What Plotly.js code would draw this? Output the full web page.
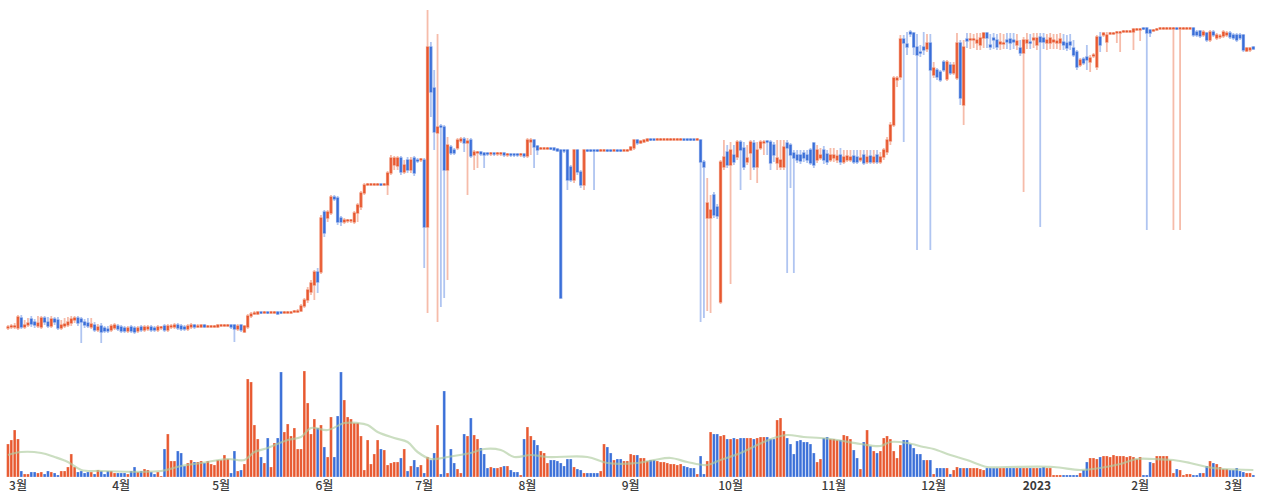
<!DOCTYPE html>
<html>
<head>
<meta charset="utf-8">
<script src="https://cdn.plot.ly/plotly-3.0.1.min.js"></script>
<style>
html,body{margin:0;padding:0;background:#fff;}
#chart{width:1266px;height:502px;}
</style>
</head>
<body>
<div id="chart"></div>
<script>
// Daily candles from 2022-02-26 to 2023-03-07 (arbitrary price units)
const startDate = '2022-02-26';
const openP = [
12,13,13,12,22,13,15,21,18,14,
13,22,18,14,21,20,12,14,15,17,
20,22,21,18,17,13,15,10,14,12,
11,10,12,14,13,12,9,13,12,9,
13,10,11,13,12,10,12,14,10,13,
13,15,14,13,11,13,15,13,13,15,
13,13,13,13,14,14,14,15,15,11,
15,8,13,24,26,26,28,27,28,27,
27,28,28,27,27,27,28,28,29,34,
40,48,55,68,68,128,122,127,143,142,
122,118,119,119,118,127,133,147,155,155,
155,155,156,155,155,167,175,174,182,168,
180,170,182,180,180,180,113,293,252,207,
214,213,170,193,190,192,199,201,197,200,
185,187,188,187,187,186,187,186,186,187,
185,186,186,186,185,186,184,198,200,194,
191,191,191,192,192,191,190,190,190,173,
160,190,168,155,190,190,190,190,189,189,
190,190,189,190,190,189,189,190,192,200,
197,198,199,201,201,200,200,200,200,200,
200,200,200,201,201,201,201,200,200,178,
122,122,145,133,38,173,188,175,185,183,
198,192,178,187,197,173,192,197,199,198,
195,177,173,173,197,195,187,185,185,187,
185,190,197,180,182,190,186,180,182,180,
185,178,180,180,184,183,180,185,178,184,
178,185,178,183,188,199,215,260,263,301,
296,308,307,293,288,293,291,297,265,270,
268,278,261,275,267,262,297,235,301,300,
300,297,295,302,307,295,302,300,296,296,
300,301,300,295,292,287,297,298,300,295,
303,302,297,297,298,297,297,298,297,298,
292,288,275,281,283,278,284,273,303,305,
298,306,306,307,307,308,308,308,308,310,
310,312,312,310,309,310,311,311,311,311,
311,312,311,311,311,311,312,308,309,305,
307,300,308,302,303,304,305,307,305,305,
305,305,289,290,293
];
const closeP = [
13,14,14,23,13,15,17,16,15,17,
22,18,14,21,18,12,15,16,18,21,
22,17,18,15,14,16,10,13,8,9,
9,14,15,11,9,9,12,9,8,12,
10,13,13,10,10,13,13,10,14,14,
15,12,11,11,14,15,13,14,15,13,
14,14,14,15,15,15,15,13,11,14,
10,14,24,26,27,28,27,28,27,28,
28,26,27,28,28,28,29,29,34,40,
50,57,68,58,122,107,128,143,141,118,
118,120,120,120,127,135,147,155,156,156,
156,156,155,156,167,182,182,182,168,175,
170,180,167,179,181,113,293,248,208,213,
213,170,195,187,187,200,201,197,199,184,
188,188,186,185,186,187,186,187,187,185,
186,185,185,185,186,184,200,200,193,190,
192,192,192,191,190,189,42,189,160,160,
190,168,155,190,189,189,189,189,190,190,
189,189,190,189,189,190,190,193,200,197,
199,200,201,200,200,201,201,201,201,201,
201,201,201,200,200,200,200,201,178,173,
137,130,125,124,178,183,175,190,178,198,
190,173,182,198,173,190,198,198,198,177,
185,182,180,193,192,185,182,180,179,182,
180,177,175,190,185,180,178,185,185,184,
178,183,184,183,178,178,182,177,183,178,
183,178,183,190,200,215,262,262,301,297,
293,306,293,285,287,290,297,270,272,263,
260,270,278,267,275,297,242,293,299,301,
301,300,302,307,302,293,300,293,298,297,
298,297,298,299,287,300,300,297,302,302,
298,298,300,302,300,299,301,295,292,295,
285,273,280,277,280,282,285,303,295,307,
305,307,307,308,308,309,309,309,311,311,
311,311,307,307,310,311,312,312,312,312,
312,311,312,312,312,312,305,305,304,308,
300,308,305,305,304,308,307,303,302,300,
302,290,292,292,291
];
const highP = [
15,16,17,25,25,20,22,24,21,24,
24,24,23,24,23,23,20,22,23,24,
24,24,23,21,22,22,18,16,17,14,
14,16,17,16,15,14,14,15,14,14,
15,15,15,15,14,15,14,16,16,16,
17,17,16,15,16,17,16,16,16,16,
15,15,15,16,16,16,16,16,16,16,
16,15,26,28,29,29,29,29,29,29,
29,29,29,29,29,29,30,31,36,42,
53,60,70,72,125,130,130,145,145,144,
124,122,121,121,129,137,149,157,157,157,
157,157,157,157,169,185,184,184,184,180,
183,183,184,182,182,182,330,298,270,306,
216,215,203,195,192,202,203,203,202,202,
190,189,189,188,188,188,188,188,188,188,
187,187,187,187,187,187,202,202,201,195,
193,193,193,193,193,192,191,191,191,175,
191,191,170,191,191,191,191,191,191,191,
191,191,191,191,191,191,191,194,201,201,
200,201,202,202,202,202,202,202,202,202,
202,202,202,202,202,202,202,202,201,180,
162,145,148,136,180,200,195,198,195,200,
200,198,195,200,200,198,200,200,200,200,
198,200,200,200,200,197,190,190,190,190,
190,192,198,195,192,194,190,192,192,190,
192,190,190,190,190,190,190,190,190,190,
190,190,188,192,203,218,264,264,305,305,
308,310,308,306,295,308,306,306,278,272,
270,280,280,278,278,307,300,300,307,307,
306,307,307,308,308,306,307,306,307,306,
307,307,307,306,300,303,307,306,307,307,
307,307,306,307,306,306,307,306,305,306,
300,290,282,283,295,285,287,305,308,308,
308,308,308,309,309,310,310,310,312,312,
312,313,313,311,311,312,313,313,313,313,
313,313,313,313,313,313,313,310,310,310,
308,310,310,307,306,310,309,309,307,307,
307,306,293,293,294
];
const lowP = [
10,11,11,10,11,11,13,13,12,12,
11,15,12,12,15,10,10,12,13,14,
17,14,-3,12,12,11,8,8,-3,7,
7,8,10,9,7,7,7,7,6,7,
8,8,9,8,8,8,10,8,8,11,
11,10,9,9,9,11,11,12,12,12,
12,12,12,12,13,13,13,11,-2,9,
8,7,11,22,25,25,26,26,26,26,
26,25,26,26,26,26,27,27,28,32,
37,45,40,47,66,103,118,125,139,115,
114,116,117,117,116,118,130,145,154,154,
154,154,154,154,145,165,170,170,165,166,
167,167,164,177,178,72,27,223,190,18,
33,42,60,185,185,190,197,188,145,182,
170,172,184,172,184,184,184,184,184,183,
183,183,183,183,183,182,182,185,172,185,
190,190,190,190,189,188,41,187,150,158,
157,165,152,150,188,188,150,188,188,188,
188,188,188,188,188,188,188,189,190,195,
196,197,198,199,199,199,199,199,199,199,
199,199,199,199,199,199,199,199,18,22,
29,27,122,121,36,170,172,56,175,180,
150,170,175,160,170,157,190,185,185,170,
178,170,170,170,67,152,67,177,176,178,
177,175,172,177,180,176,175,178,178,177,
175,176,178,178,176,176,178,175,176,176,
176,176,176,180,185,195,213,253,260,198,
285,303,285,90,283,285,288,90,262,260,
258,268,259,265,265,260,235,215,292,291,
292,290,290,292,292,290,291,290,290,291,
291,290,291,290,284,148,291,291,292,290,
113,291,290,291,291,291,290,290,289,290,
283,270,273,275,270,268,282,270,288,303,
288,305,305,297,288,307,307,307,290,309,
299,310,110,303,308,309,310,310,310,310,
110,310,110,310,310,310,303,303,302,303,
298,298,303,300,301,302,303,301,300,298,
300,288,288,288,290
];
const volume = [
33,37,47,38,6,3,3,5,5,4,
5,3,6,5,4,2,6,6,10,23,
10,5,6,4,5,5,3,7,6,3,
6,6,4,4,4,4,3,6,10,5,
6,8,7,5,3,5,1,28,43,16,
16,26,24,11,14,17,15,15,16,14,
16,13,12,17,17,22,18,4,26,6,
7,13,98,95,52,38,20,14,39,10,
34,39,105,45,53,41,49,28,28,106,
74,43,58,49,52,30,20,60,20,61,
105,77,60,58,54,54,41,7,37,13,
23,37,28,27,12,14,15,15,19,28,
6,11,17,10,12,4,20,17,24,52,
3,86,4,28,14,8,4,43,41,59,
42,38,29,23,9,10,9,9,10,11,
11,7,5,5,2,38,50,41,37,32,
26,24,14,17,17,16,14,11,18,18,
10,8,7,4,4,4,4,4,6,33,
30,24,17,18,18,16,16,23,22,22,
19,19,16,17,17,16,15,15,14,13,
13,12,13,11,10,9,9,3,21,3,
16,45,43,43,41,42,38,38,39,38,
39,39,39,39,38,39,40,40,40,38,
38,57,59,46,39,33,23,36,37,35,
35,33,24,15,18,39,40,38,38,37,
37,42,41,38,27,19,8,35,47,31,
26,24,26,39,41,38,26,19,32,37,
37,33,29,23,23,17,17,17,3,9,
9,9,9,3,7,10,9,9,9,9,
9,9,8,7,9,9,9,9,9,9,
9,9,9,9,9,9,9,9,9,9,
9,10,9,9,2,2,2,2,2,2,
2,2,4,7,15,19,19,18,20,21,
21,20,22,21,21,21,20,21,20,18,
20,2,2,15,14,21,21,21,21,17,
4,8,7,2,3,3,2,2,4,4,
11,16,14,13,10,8,8,7,7,9,
6,5,4,4,2
];
// Volume moving average, read at sample dates
const maDates = ['2022-02-26','2022-03-02','2022-03-08','2022-03-12','2022-03-16','2022-03-20','2022-03-26','2022-04-13','2022-04-19','2022-04-25','2022-05-03','2022-05-08','2022-05-11','2022-05-15','2022-05-21','2022-05-25','2022-05-28','2022-06-02','2022-06-07','2022-06-11','2022-06-14','2022-06-17','2022-06-22','2022-06-26','2022-06-29','2022-07-03','2022-07-08','2022-07-15','2022-07-19','2022-07-24','2022-07-28','2022-08-02','2022-08-07','2022-08-19','2022-08-25','2022-09-03','2022-09-08','2022-09-13','2022-09-18','2022-09-24','2022-09-28','2022-10-04','2022-10-09','2022-10-14','2022-10-18','2022-10-23','2022-10-28','2022-11-02','2022-11-09','2022-11-15','2022-11-18','2022-11-23','2022-11-28','2022-12-01','2022-12-06','2022-12-11','2022-12-17','2022-12-23','2023-01-06','2023-01-14','2023-01-20','2023-01-26','2023-01-31','2023-02-05','2023-02-11','2023-02-16','2023-02-21','2023-02-26','2023-03-07'];
const maValues = [22,25,24,20,15,7,6,6,11,14,18,17,25,29,37,40,49,47,54,54,52,45,39,35,25,18,20,24,28,27,20,22,20,20,14,14,17,19,15,12,17,24,32,39,42,40,39,37,33,31,35,34,30,28,22,17,10,10,10,7,9,13,18,18,17,14,10,8,7];
const tickDates = ['2022-03-01','2022-04-01','2022-05-01','2022-06-01','2022-07-01','2022-08-01','2022-09-01','2022-10-01','2022-11-01','2022-12-01','2023-01-01','2023-02-01','2023-03-01'];
const tickLabels = ['3월','4월','5월','6월','7월','8월','9월','10월','11월','12월','<b>2023</b>','2월','3월'];

const UP = '#e8582f', DOWN = '#3a6fd8';
const UP_WICK = '#f6bcaa', DOWN_WICK = '#b0c5f1';

const dates = openP.map((_, i) => {
  const d = new Date(Date.UTC(2022, 1, 26 + i));
  return d.toISOString().slice(0, 10);
});
const bodyHigh = openP.map((o, i) => Math.max(o, closeP[i]));
const bodyLow = openP.map((o, i) => Math.min(o, closeP[i]));
const volColors = openP.map((o, i) => closeP[i] >= o ? UP : DOWN);

const traces = [
  {
    type: 'candlestick', x: dates, open: openP, close: closeP, high: highP, low: lowP,
    increasing: {line: {color: UP_WICK, width: 1.8}, fillcolor: UP_WICK},
    decreasing: {line: {color: DOWN_WICK, width: 1.8}, fillcolor: DOWN_WICK},
    xaxis: 'x', yaxis: 'y', hoverinfo: 'skip', showlegend: false
  },
  {
    type: 'candlestick', x: dates, open: openP, close: closeP, high: bodyHigh, low: bodyLow,
    increasing: {line: {color: UP, width: 0.6}, fillcolor: UP},
    decreasing: {line: {color: DOWN, width: 0.6}, fillcolor: DOWN},
    xaxis: 'x', yaxis: 'y', hoverinfo: 'skip', showlegend: false
  },
  {
    type: 'bar', x: dates, y: volume,
    marker: {color: volColors, line: {color: 'rgba(255,255,255,0.6)', width: 0.4}},
    xaxis: 'x', yaxis: 'y2', hoverinfo: 'skip', showlegend: false
  },
  {
    type: 'scatter', mode: 'lines', x: maDates, y: maValues,
    line: {color: 'rgba(175,205,160,0.65)', width: 2.2, shape: 'spline', smoothing: 1},
    xaxis: 'x', yaxis: 'y2', hoverinfo: 'skip', showlegend: false
  }
];

const layout = {
  width: 1266, height: 502,
  margin: {l: 5, r: 5, t: 0, b: 25},
  paper_bgcolor: '#ffffff', plot_bgcolor: '#ffffff',
  showlegend: false, hovermode: false, bargap: 0.18, boxgap: 0.3,
  xaxis: {
    type: 'date', anchor: 'y2', domain: [0, 1],
    range: ['2022-02-25 02:24', '2023-03-09 07:12'],
    tickmode: 'array', tickvals: tickDates, ticktext: tickLabels,
    showgrid: false, zeroline: false, showline: false, ticks: '',
    rangeslider: {visible: false},
    tickfont: {family: 'Noto Sans CJK KR, Noto Sans, sans-serif', size: 12, color: '#3a3a3a', weight: 500}
  },
  yaxis: {domain: [0.2662, 1], range: [-10, 340], visible: false, fixedrange: true},
  yaxis2: {domain: [0, 0.2411], range: [0, 115], visible: false, fixedrange: true}
};

Plotly.newPlot('chart', traces, layout, {displayModeBar: false, staticPlot: true});
</script>
</body>
</html>
